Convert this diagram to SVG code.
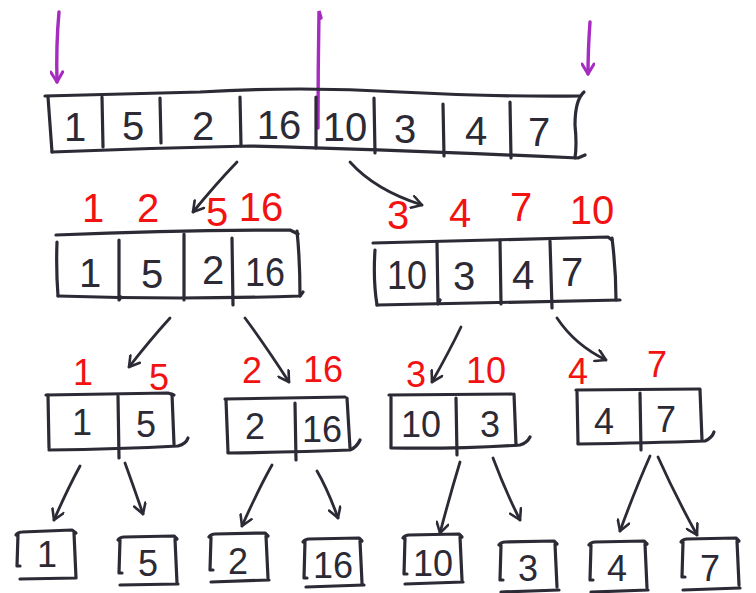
<svg xmlns="http://www.w3.org/2000/svg" width="756" height="593" viewBox="0 0 756 593">
<style>
.ln{fill:none;stroke:#2c2a35;stroke-width:3.2;stroke-linecap:round;stroke-linejoin:round}
.cn{fill:none;stroke:#2c2a35;stroke-width:2.8;stroke-linecap:round;marker-end:url(#ah)}
.pp{fill:none;stroke:#a62bbf;stroke-width:3.4;stroke-linecap:round}
.d{font-family:"Liberation Sans","DejaVu Sans",sans-serif;font-size:40px;fill:#2c2a35;text-anchor:middle}
.s{font-size:36px}
.r{font-family:"Liberation Sans","DejaVu Sans",sans-serif;font-size:40px;fill:#f21212;text-anchor:middle}
.rs{font-size:36px}
</style>
<defs>
<marker id="ah" viewBox="0 0 14 14" refX="12" refY="7" markerWidth="14" markerHeight="14" markerUnits="userSpaceOnUse" orient="auto">
<path d="M2,1 L12,7 L2,13" fill="none" stroke="#2c2a35" stroke-width="2.6" stroke-linecap="round" stroke-linejoin="round"/>
</marker>
<marker id="ph" viewBox="0 0 14 14" refX="12" refY="7" markerWidth="14" markerHeight="14" markerUnits="userSpaceOnUse" orient="auto">
<path d="M2,1 L12,7 L2,13" fill="none" stroke="#a62bbf" stroke-width="3" stroke-linecap="round" stroke-linejoin="round"/>
</marker>
</defs>

<g id="pointers">
<path class="pp" d="M59,12 Q56,45 57,82" marker-end="url(#ph)"/>
<path class="pp" d="M321,18 L319,11 Q318,70 318,128"/>
<path class="pp" d="M590,22 Q588,50 588,74" marker-end="url(#ph)"/>
</g>

<g id="arr-root">
<path class="ln" d="M45,96 Q120,94 200,92 Q300,86 400,92 Q500,97 580,96"/>
<path class="ln" d="M48,97 L52,152"/>
<path class="ln" d="M52,152 Q150,148 250,146 Q400,150 578,158 L585,155"/>
<path class="ln" d="M584,92 Q575,100 575,125 Q577,145 575,158"/>
<path class="ln" d="M102,97 L103,147 M160,98 L161,143 M240,97 L241,146 M316,97 L316,148 M374,98 L375,153 M443,104 L444,156 M510,102 L511,158"/>
<text class="d" x="75" y="141">1</text>
<text class="d" x="133" y="140">5</text>
<text class="d" x="203" y="140">2</text>
<text class="d" x="279" y="139">16</text>
<text class="d" x="345" y="141">10</text>
<text class="d" x="405" y="143">3</text>
<text class="d" x="476" y="145">4</text>
<text class="d" x="539" y="146">7</text>
</g>

<g id="arr-left">
<path class="ln" d="M56,235 Q180,230 290,230 L298,234"/>
<path class="ln" d="M57,242 Q56,270 58,296"/>
<path class="ln" d="M58,296 Q180,300 300,296 L303,292"/>
<path class="ln" d="M297,231 Q300,260 300,296"/>
<path class="ln" d="M119,240 L119,300 L121,297 M184,234 L184,300 M232,238 L233,305"/>
<text class="d" x="90" y="287">1</text>
<text class="d" x="152" y="288">5</text>
<text class="d" x="213" y="284">2</text>
<text class="d" x="265" y="286" textLength="40" lengthAdjust="spacingAndGlyphs">16</text>
<text class="r" x="93" y="222">1</text>
<text class="r" x="148" y="222">2</text>
<text class="r" x="217" y="226">5</text>
<text class="r" x="261" y="221">16</text>
</g>

<g id="arr-right">
<path class="ln" d="M373,243 Q490,240 608,237 L612,240"/>
<path class="ln" d="M375,250 Q373,280 377,305"/>
<path class="ln" d="M377,305 Q500,303 620,300"/>
<path class="ln" d="M612,238 Q616,270 616,300"/>
<path class="ln" d="M437,243 L438,304 L440,300 M500,240 L501,304 M550,241 L552,308"/>
<text class="d" x="407" y="289" textLength="40" lengthAdjust="spacingAndGlyphs">10</text>
<text class="d" x="464" y="290">3</text>
<text class="d" x="523" y="289">4</text>
<text class="d" x="572" y="286">7</text>
<text class="r" x="398" y="229">3</text>
<text class="r" x="460" y="227">4</text>
<text class="r" x="521" y="221">7</text>
<text class="r" x="592" y="224">10</text>
</g>

<g id="n-15">
<path class="ln" d="M46,395 L168,393 L174,395"/>
<path class="ln" d="M48,395 L49,448"/>
<path class="ln" d="M49,450 Q120,449 178,446 Q186,444 188,438"/>
<path class="ln" d="M172,394 L174,444"/>
<path class="ln" d="M118,396 L119,458"/>
<text class="d s" x="82" y="435">1</text>
<text class="d s" x="146" y="437">5</text>
<text class="r rs" x="83" y="385">1</text>
<text class="r rs" x="159" y="390">5</text>
</g>

<g id="n-216">
<path class="ln" d="M225,399 L345,397"/>
<path class="ln" d="M226,400 L228,452"/>
<path class="ln" d="M228,453 Q300,452 350,450 Q357,447 360,440"/>
<path class="ln" d="M347,398 L350,448"/>
<path class="ln" d="M295,403 L296,460"/>
<text class="d s" x="255" y="439">2</text>
<text class="d s" x="322" y="442">16</text>
<text class="r rs" x="252" y="383">2</text>
<text class="r rs" x="323" y="382">16</text>
</g>

<g id="n-103">
<path class="ln" d="M389,395 L512,394"/>
<path class="ln" d="M391,397 L391,447"/>
<path class="ln" d="M391,448 Q460,449 520,445 Q527,443 530,437"/>
<path class="ln" d="M514,394 L516,445"/>
<path class="ln" d="M456,398 L457,455"/>
<text class="d s" x="421" y="437">10</text>
<text class="d s" x="490" y="437">3</text>
<text class="r rs" x="416" y="387">3</text>
<text class="r rs" x="486" y="383">10</text>
</g>

<g id="n-47">
<path class="ln" d="M576,390 L700,389"/>
<path class="ln" d="M577,392 L578,443"/>
<path class="ln" d="M578,444 Q650,443 705,441 Q712,438 714,432"/>
<path class="ln" d="M700,390 L702,440"/>
<path class="ln" d="M640,393 L641,450"/>
<text class="d s" x="604" y="434">4</text>
<text class="d s" x="666" y="432">7</text>
<text class="r rs" x="578" y="384">4</text>
<text class="r rs" x="657" y="377">7</text>
</g>

<g id="leaf-1">
<path class="ln" d="M16,535 Q18,532 22,532 L72,530 L76,533 M18,534 L17,566 L20,566 M74,533 L76,578 M20,579 L76,578"/>
<text class="d s" x="47" y="567">1</text>
</g>
<g id="leaf-5">
<path class="ln" d="M118,540 Q120,537 124,537 L174,536 L177,539 M120,540 L119,573 L122,573 M175,539 L177,583 M120,585 L178,584"/>
<text class="d s" x="148" y="576">5</text>
</g>
<g id="leaf-2">
<path class="ln" d="M209,537 Q211,534 215,534 L265,533 L268,536 M211,537 L210,570 L213,570 M266,536 L268,578 M211,582 L269,580"/>
<text class="d s" x="238" y="574">2</text>
</g>
<g id="leaf-16">
<path class="ln" d="M303,542 Q305,539 309,539 L359,538 L362,541 M305,541 L304,578 L307,578 M360,541 L362,583 M306,587 L364,585"/>
<text class="d s" x="333" y="578">16</text>
</g>
<g id="leaf-10">
<path class="ln" d="M403,538 Q405,535 409,535 L459,534 L462,537 M405,538 L404,574 L407,574 M460,537 L462,580 M405,584 L463,582"/>
<text class="d s" x="433" y="576">10</text>
</g>
<g id="leaf-3">
<path class="ln" d="M499,545 Q501,542 505,542 L554,541 L557,544 M501,545 L500,580 L503,580 M555,544 L557,587 M501,592 L559,590"/>
<text class="d s" x="528" y="581">3</text>
</g>
<g id="leaf-4">
<path class="ln" d="M589,545 Q591,542 595,542 L644,541 L647,544 M591,545 L590,580 L593,580 M645,544 L647,588 M591,592 L648,590"/>
<text class="d s" x="617" y="581">4</text>
</g>
<g id="leaf-7">
<path class="ln" d="M681,542 Q683,539 687,539 L736,538 L739,541 M683,542 L682,577 L685,577 M737,541 L739,585 M683,590 L740,588"/>
<text class="d s" x="710" y="581">7</text>
</g>

<g id="connectors">
<path class="cn" d="M237,162 Q215,185 193,212"/>
<path class="cn" d="M350,162 Q375,190 422,205"/>
<path class="cn" d="M170,318 Q150,340 129,367"/>
<path class="cn" d="M245,318 Q265,345 289,382"/>
<path class="cn" d="M461,327 Q450,350 432,382"/>
<path class="cn" d="M557,318 Q575,345 606,360"/>
<path class="cn" d="M80,466 Q67,490 54,520"/>
<path class="cn" d="M125,463 Q133,485 143,514"/>
<path class="cn" d="M272,465 Q258,490 242,526"/>
<path class="cn" d="M317,471 Q328,490 338,518"/>
<path class="cn" d="M460,462 Q450,495 440,533"/>
<path class="cn" d="M493,458 Q505,490 520,520"/>
<path class="cn" d="M650,456 Q635,490 620,531"/>
<path class="cn" d="M658,457 Q675,495 697,535"/>
</g>
</svg>
